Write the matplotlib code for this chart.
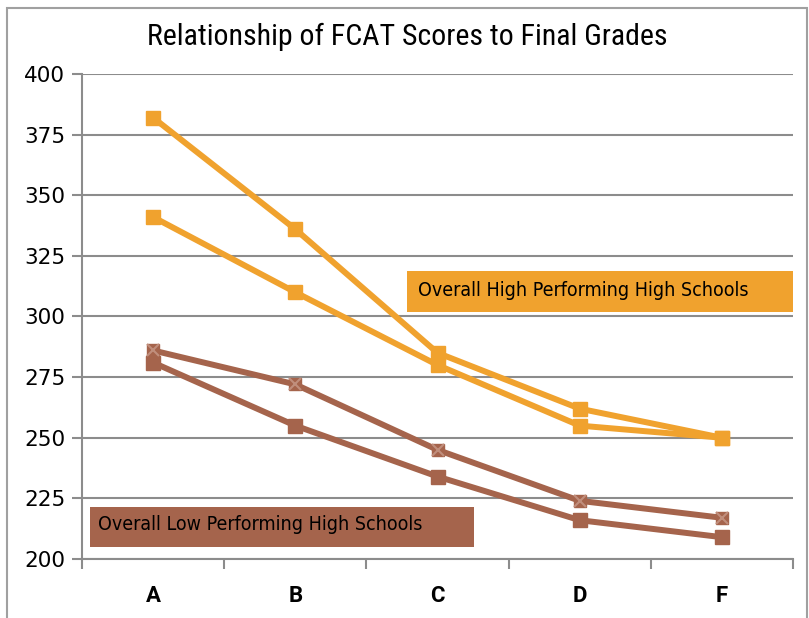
import matplotlib
matplotlib.use("Agg")
import matplotlib.pyplot as plt
from matplotlib.patches import Rectangle

grades = ["A", "B", "C", "D", "F"]
high_top = [382, 336, 285, 262, 250]
high_bottom = [341, 310, 280, 255, 250]
low_top = [286, 272, 245, 224, 217]
low_bottom = [281, 255, 234, 216, 209]
yticks = [200, 225, 250, 275, 300, 325, 350, 375, 400]

orange = "#F0A22E"
brown = "#A5644C"
grid_gray = "#8C8C8C"

W, H = 809, 618
fig = plt.figure(figsize=(W / 100, H / 100), dpi=100)
fig.patch.set_facecolor("white")

# chart frame
fig.add_artist(Rectangle((7 / W, -0.05), 800 / W, 1.05 - 8 / H, transform=fig.transFigure,
                         fill=False, edgecolor="#A0A0A0", linewidth=1.5))

ax = fig.add_axes([82 / W, 1 - 559 / H, (793 - 82) / W, (559 - 74) / H])
x = [i + 0.5 for i in range(len(grades))]

lw = 4.3
ax.plot(x, high_top, color=orange, lw=lw, marker="s", ms=9.5, mec=orange, mfc=orange, zorder=3)
ax.plot(x, high_bottom, color=orange, lw=lw, marker="s", ms=9.5, mec=orange, mfc=orange, zorder=3)
ax.plot(x, low_bottom, color=brown, lw=lw, marker="s", ms=9.5, mec=brown, mfc=brown, zorder=3)
ax.plot(x, low_top, color=brown, lw=lw, zorder=3)
ax.plot(x, low_top, ls="none", marker="s", ms=9, mfc=brown, mec=brown, zorder=4)
ax.plot(x, low_top, ls="none", marker="x", ms=9, mec="#C08E7C", mew=1.5, zorder=5)

ax.set_xlim(0, len(grades))
ax.set_ylim(200, 400)
ax.set_yticks(yticks)
ax.set_yticklabels([str(v) for v in yticks], fontsize=15.5, family="DejaVu Sans")
ax.set_xticks(range(len(grades) + 1))
ax.set_xticklabels([])
ax.set_xticks(x, minor=True)
ax.set_xticklabels(grades, minor=True, fontsize=16, fontweight="bold",
                   family=["Roboto", "DejaVu Sans"])
ax.tick_params(axis="x", which="minor", length=0, pad=19)
ax.tick_params(axis="x", which="major", length=7, width=1.5, color=grid_gray, direction="out")
ax.tick_params(axis="y", length=7, width=1.5, color=grid_gray, pad=5)
ax.grid(axis="y", color=grid_gray, lw=1.5)
ax.set_axisbelow(True)
for s in ["top", "right"]:
    ax.spines[s].set_visible(False)
for s in ["left", "bottom"]:
    ax.spines[s].set_color(grid_gray)
    ax.spines[s].set_linewidth(1.5)

fig.text(407 / W, 1 - 37 / H, "Relationship of FCAT Scores to Final Grades", ha="center", va="center",
         fontsize=21.5, family=["Roboto Condensed", "DejaVu Sans"])

# label boxes
fig.add_artist(Rectangle((407 / W, 1 - 312 / H), (793 - 407) / W, 41 / H, transform=fig.transFigure,
                         facecolor=orange, edgecolor="none", zorder=6))
fig.text(418 / W, 1 - 290 / H, "Overall High Performing High Schools", ha="left", va="center",
         fontsize=14, family="DejaVu Sans", fontstretch="condensed", zorder=7)
fig.add_artist(Rectangle((90 / W, 1 - 547 / H), (474 - 90) / W, 40 / H, transform=fig.transFigure,
                         facecolor=brown, edgecolor="none", zorder=6))
fig.text(98 / W, 1 - 525 / H, "Overall Low Performing High Schools", ha="left", va="center",
         fontsize=14, family="DejaVu Sans", fontstretch="condensed", zorder=7)

fig.savefig("out.png", dpi=100)
